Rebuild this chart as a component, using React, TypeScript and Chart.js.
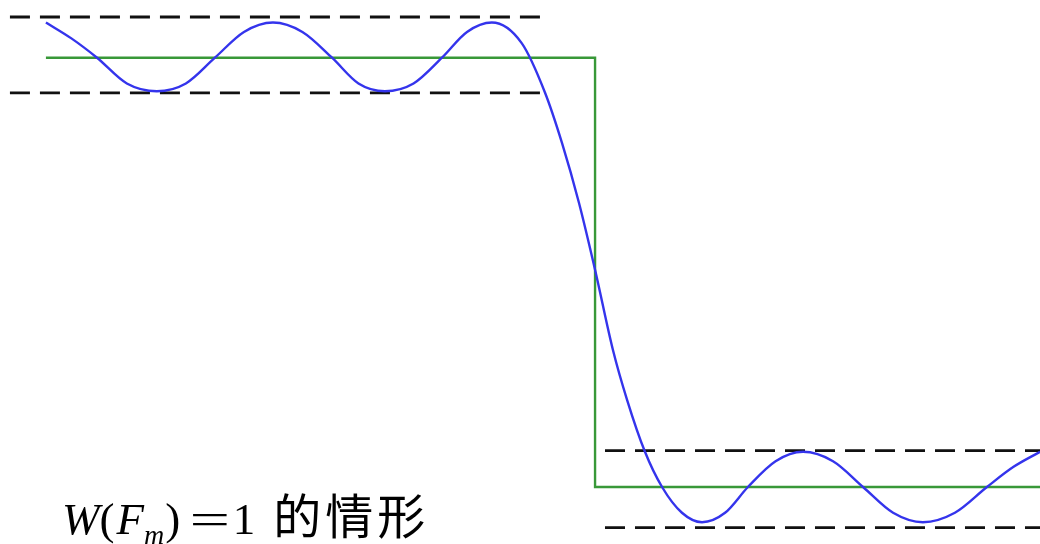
import React, { useEffect, useRef } from "react";
import { Chart, registerables } from "chart.js";

Chart.register(...registerables);

// Normalised frequency F (0 … 0.5) and amplitude of the equiripple response
const responseF = [
  0, 0.0128, 0.0257, 0.0407, 0.0558, 0.0704, 0.085, 0.0996, 0.1142, 0.129,
  0.1439, 0.1572, 0.1705, 0.1849, 0.1992, 0.2118, 0.2243, 0.2393, 0.251,
  0.2596, 0.2681, 0.2762, 0.2852, 0.2923, 0.3013, 0.3099, 0.3199, 0.33, 0.3416,
  0.3531, 0.367, 0.3808, 0.3959, 0.411, 0.4261, 0.4411, 0.4572, 0.4733, 0.4867,
  0.5,
];
const responseA = [
  1.082, 1.045, 1.0, 0.94, 0.922, 0.94, 1.0, 1.06, 1.082, 1.06,
  1.0, 0.94, 0.922, 0.94, 1.0, 1.06, 1.082, 1.034, 0.919,
  0.801, 0.662, 0.506, 0.319, 0.203, 0.082, 0, -0.06, -0.082, -0.06,
  0, 0.06, 0.082, 0.06, 0, -0.06, -0.082, -0.06, 0, 0.047,
  0.082,
];

// Ideal low-pass response
const idealF = [0, 0.2762, 0.2762, 0.5];
const idealA = [1, 1, 0, 0];

// Tolerance bands (dashed)
const passbandF = [-0.0181, 0.251];
const passUpper = 1.0948;
const passLower = 0.918;
const stopbandF = [0.2812, 0.5];
const stopUpper = 0.0846;
const stopLower = -0.0948;

// Axis ranges
const xRange = [-0.0231, 0.5];
const yRange = [-0.1328, 1.1344];

const BLUE = "rgb(52,52,236)";
const GREEN = "rgb(56,152,56)";

function pts(xs: number[], ys: number[]) {
  return xs.map((x, i) => ({ x, y: ys[i] }));
}
function flat(xs: number[], y: number) {
  return xs.map((x) => ({ x, y }));
}

export default function App() {
  const ref = useRef<HTMLCanvasElement | null>(null);

  useEffect(() => {
    if (!ref.current) return;
    const dashStyle = {
      borderColor: "#111",
      borderWidth: 2.8,
      borderDash: [20, 10],
      pointRadius: 0,
      tension: 0,
      fill: false,
    };
    const chart = new Chart(ref.current, {
      type: "line",
      data: {
        datasets: [
          {
            label: "response",
            data: pts(responseF, responseA),
            borderColor: BLUE,
            borderWidth: 2.4,
            pointRadius: 0,
            cubicInterpolationMode: "monotone",
            fill: false,
          },
          {
            label: "ideal",
            data: pts(idealF, idealA),
            borderColor: GREEN,
            borderWidth: 2.4,
            pointRadius: 0,
            tension: 0,
            fill: false,
          },
          { label: "pass upper", data: flat(passbandF, passUpper), ...dashStyle },
          { label: "pass lower", data: flat(passbandF, passLower), ...dashStyle },
          { label: "stop upper", data: flat(stopbandF, stopUpper), ...dashStyle },
          { label: "stop lower", data: flat(stopbandF, stopLower), ...dashStyle },
        ],
      },
      options: {
        responsive: false,
        maintainAspectRatio: false,
        animation: false,
        layout: { padding: 0 },
        plugins: {
          legend: { display: false },
          tooltip: { enabled: false },
          title: { display: false },
        },
        scales: {
          x: { type: "linear", min: xRange[0], max: xRange[1], display: false },
          y: { type: "linear", min: yRange[0], max: yRange[1], display: false },
        },
      },
    } as any);
    return () => chart.destroy();
  }, []);

  const serif = '"Liberation Serif", "Times New Roman", serif';
  return (
    <div
      style={{
        position: "absolute",
        left: 0,
        top: 0,
        width: 1040,
        height: 544,
        overflow: "hidden",
        background: "#fff",
      }}
    >
      <canvas ref={ref} width={1040} height={544} style={{ display: "block" }} />
      <div
        style={{
          position: "absolute",
          left: 62,
          top: 478,
          display: "flex",
          alignItems: "baseline",
          whiteSpace: "nowrap",
          fontFamily: serif,
          fontSize: 45,
          color: "#000",
          lineHeight: "normal",
        }}
      >
        <span style={{ fontStyle: "italic" }}>W</span>
        <span>(</span>
        <span style={{ fontStyle: "italic", marginLeft: 2 }}>F</span>
        <span style={{ fontStyle: "italic", fontSize: 28, position: "relative", top: 10 }}>m</span>
        <span style={{ marginLeft: 1 }}>)</span>
        <span
          style={{
            display: "inline-block",
            marginLeft: 17,
            marginRight: 10,
            transform: "scaleX(1.6)",
          }}
        >
          =
        </span>
        <span>1</span>
        <span
          style={{
            fontFamily: '"Noto Sans CJK SC", sans-serif',
            fontSize: 48,
            marginLeft: 18,
            letterSpacing: 4,
          }}
        >
          的情形
        </span>
      </div>
    </div>
  );
}
